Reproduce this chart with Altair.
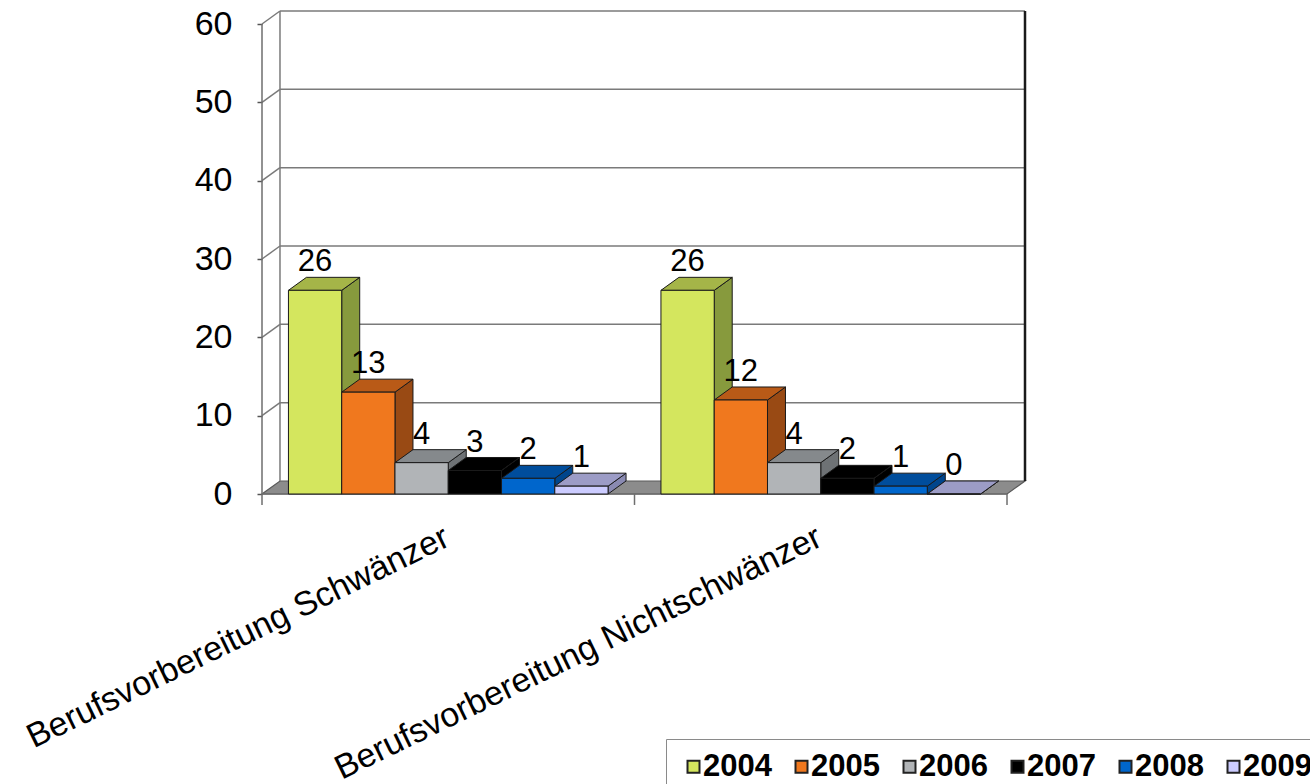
import json
import altair as alt
import pandas as pd

# ---- data -------------------------------------------------------------
categories = ["Berufsvorbereitung Schwänzer", "Berufsvorbereitung Nichtschwänzer"]
years = ["2004", "2005", "2006", "2007", "2008", "2009"]
values_schwaenzer = [26, 13, 4, 3, 2, 1]
values_nichtschwaenzer = [26, 12, 4, 2, 1, 0]
y_ticks = [0, 10, 20, 30, 40, 50, 60]

# ---- styling ------------------------------------------------------------
front_colors = ["#D4E65E", "#F0781E", "#B1B4B7", "#000000", "#0066CC", "#CCCCFF"]
top_colors = ["#A5B548", "#B95A17", "#85898C", "#000000", "#004D9C", "#9C9CC6"]
side_colors = ["#879A3D", "#994A14", "#6E7275", "#000000", "#00458C", "#8A8AB2"]
FONT = "Liberation Sans, Arial, Helvetica, sans-serif"

# oblique depth of the 3-D box, in category units (x) and value units (y)
DX = 0.0483
DY = 1.66
BAR_W = 0.143
GROUP_PAD = (1 - len(years) * BAR_W) / 2
Y_MAX = 60
TICK_LEN = 1.4

W = 763
H = 483

# ---- geometry tables (one closed polygon per face) ---------------------
front_rows, top_rows, side_rows = [], [], []
for ci, vals in enumerate([values_schwaenzer, values_nichtschwaenzer]):
    for k, (yr, v) in enumerate(zip(years, vals)):
        x0 = ci + GROUP_PAD + k * BAR_W
        x1 = x0 + BAR_W
        bid = f"{ci}-{k}"
        front_rows.append(dict(bar=bid, year=yr, x0=x0, x1=x1, xc=(x0 + x1) / 2, v=v, base=0))
        top_pts = [(x0, v), (x1, v), (x1 + DX, v + DY), (x0 + DX, v + DY)]
        side_pts = [(x1, 0), (x1, v), (x1 + DX, v + DY), (x1 + DX, DY)]
        for seq, (x, y) in enumerate(top_pts):
            top_rows.append(dict(bar=bid, seq=seq, x=x, y=y, col=top_colors[k]))
        for seq, (x, y) in enumerate(side_pts):
            side_rows.append(dict(bar=bid, seq=seq, x=x, y=y, col=side_colors[k]))

front_df = pd.DataFrame(front_rows)
top_df = pd.DataFrame(top_rows)
side_df = pd.DataFrame(side_rows)

floor_df = pd.DataFrame([
    dict(seq=0, x=0, y=0),
    dict(seq=1, x=2, y=0),
    dict(seq=2, x=2 + DX, y=DY),
    dict(seq=3, x=DX, y=DY),
])

grid_rows = []
for v in y_ticks:
    if v > 0:
        grid_rows.append(dict(x=DX, x2=2 + DX, y=v + DY, y2=v + DY))
        grid_rows.append(dict(x=0, x2=DX, y=v, y2=v + DY))
grid_rows.append(dict(x=DX, x2=DX, y=DY, y2=Y_MAX + DY))
grid_df = pd.DataFrame(grid_rows)

frame_df = pd.DataFrame([
    dict(x=0, x2=0, y=0, y2=Y_MAX),
    dict(x=0, x2=2, y=0, y2=0),
    dict(x=0, x2=0, y=-TICK_LEN, y2=0),
    dict(x=1, x2=1, y=-TICK_LEN, y2=0),
    dict(x=2, x2=2, y=-TICK_LEN, y2=0),
])
right_edge_df = pd.DataFrame([dict(x=2 + DX, x2=2 + DX, y=DY, y2=Y_MAX + DY)])

# ---- shared scales / axes ----------------------------------------------
XS = alt.Scale(domain=[0, 2 + DX], nice=False, zero=False)
YS = alt.Scale(domain=[0, Y_MAX + DY], nice=False, zero=False)

label_expr = (f"datum.value < 1 ? {json.dumps(categories[0], ensure_ascii=False)}"
              f" : {json.dumps(categories[1], ensure_ascii=False)}")
XAXIS = alt.Axis(values=[0.5, 1.5], labelExpr=label_expr, domain=False, ticks=False,
                 grid=False, labelAngle=-26, labelAlign="right", labelBaseline="top",
                 labelFont=FONT, labelFontSize=34, labelColor="black", labelPadding=26,
                 labelOffset=-9, labelLimit=1000, title=None)
YAXIS = alt.Axis(values=y_ticks, domain=False, grid=False, ticks=True, tickSize=5,
                 tickColor="#555555", tickWidth=1.5, labelFont=FONT, labelFontSize=34,
                 labelColor="black", labelPadding=25, title=None)


def X(field):
    return alt.X(field, type="quantitative", scale=XS, axis=XAXIS)


def Y(field):
    return alt.Y(field, type="quantitative", scale=YS, axis=YAXIS, stack=None)


def polygons(df, stroke="#1A1A1A", width=1.0, fixed_fill=None):
    enc = dict(x=X("x"), y=Y("y"), order=alt.Order("seq:Q"))
    if "bar" in df.columns:
        enc["detail"] = "bar:N"
    if fixed_fill is None:
        enc["fill"] = alt.Fill("col:N", scale=None)
        mark = alt.Chart(df).mark_line(interpolate="linear-closed", stroke=stroke,
                                       strokeWidth=width, strokeJoin="miter")
    else:
        mark = alt.Chart(df).mark_line(interpolate="linear-closed", stroke=stroke,
                                       strokeWidth=width, fill=fixed_fill)
    return mark.encode(**enc)


floor = polygons(floor_df, stroke="#5A5A5A", width=1.2, fixed_fill="#8C8C8C")

grid = alt.Chart(grid_df).mark_rule(color="#7A7A7A", strokeWidth=1.5).encode(
    x=X("x"), x2="x2", y=Y("y"), y2="y2")

right_edge = alt.Chart(right_edge_df).mark_rule(color="#1A1A1A", strokeWidth=2.5).encode(
    x=X("x"), x2="x2", y=Y("y"), y2="y2")

frame = alt.Chart(frame_df).mark_rule(color="#6E6E6E", strokeWidth=1.5).encode(
    x=X("x"), x2="x2", y=Y("y"), y2="y2")

sides = polygons(side_df)
tops = polygons(top_df)

fronts = alt.Chart(front_df).mark_rect(stroke="#1A1A1A", strokeWidth=1).encode(
    x=X("x0"), x2="x1", y=Y("base"), y2="v",
    color=alt.Color("year:N", scale=alt.Scale(domain=years, range=front_colors),
                    legend=alt.Legend(orient="none", legendX=404, legendY=728,
                                      direction="horizontal", columns=6, title=None,
                                      symbolType="square", symbolSize=144,
                                      symbolStrokeColor="#222222", symbolStrokeWidth=2,
                                      labelFont=FONT, labelFontWeight="bold",
                                      labelFontSize=31, labelColor="black",
                                      labelOffset={"expr": "-6"}, columnPadding=14,
                                      padding=12, labelLimit=300, strokeColor="#8A8A8A",
                                      fillColor="white")))

labels = alt.Chart(front_df).mark_text(font=FONT, fontSize=31, color="black",
                                       baseline="alphabetic", align="center", dy=-19).encode(
    x=X("xc"), y=Y("v"), text="v:Q")

chart = alt.layer(floor, grid, right_edge, frame, sides, tops, fronts, labels).properties(
    width=W, height=H,
    autosize=alt.AutoSizeParams(type="none"),
    padding={"left": 262, "top": 11, "right": 1310 - 262 - W, "bottom": 784 - 11 - H},
    background="white",
).configure_view(stroke=None)

chart.save("out.html", embed_options={"renderer": "svg", "actions": False})
